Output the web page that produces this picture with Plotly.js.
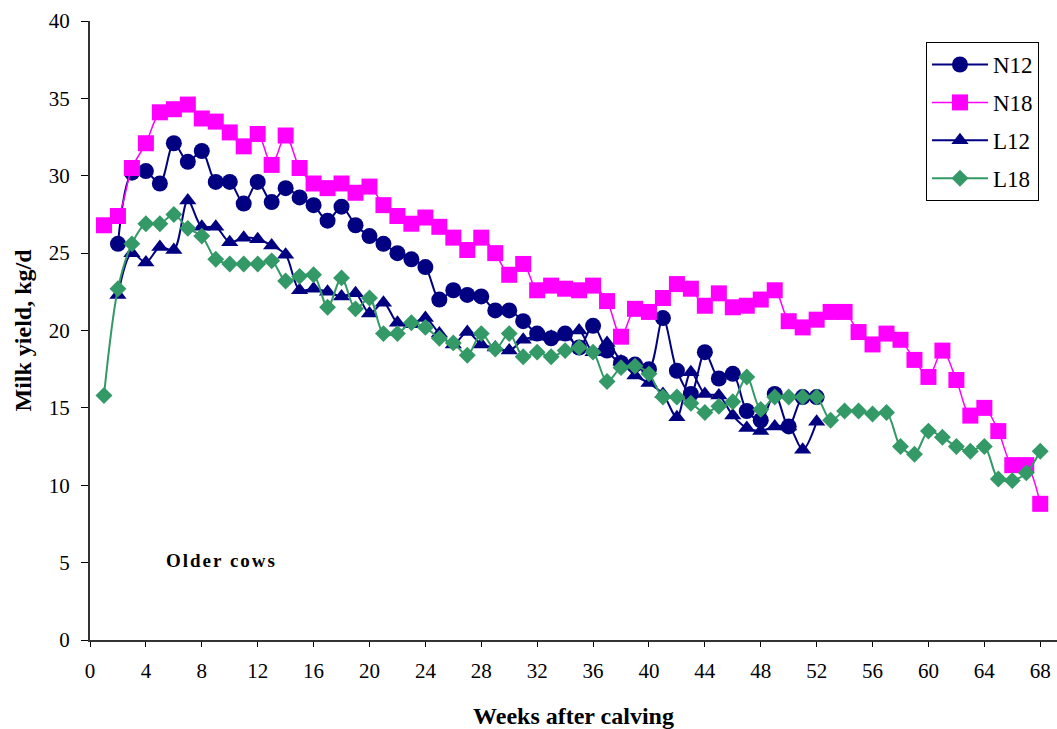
<!DOCTYPE html>
<html>
<head>
<meta charset="utf-8">
<script src="https://cdn.plot.ly/plotly-3.0.1.min.js"></script>
<style>
  html, body { margin: 0; padding: 0; background: #fff; }
  #chart { width: 1057px; height: 729px; }
</style>
</head>
<body>
<div id="chart"></div>
<script>
// Weeks after calving
const weeksLong = Array.from({length: 68}, (_, i) => i + 1);   // 1..68
const weeksShort = Array.from({length: 51}, (_, i) => i + 2);  // 2..52

// Milk yield, kg/d
const N12 = [25.6, 30.2, 30.3, 29.5, 32.1, 30.9, 31.6, 29.6, 29.6, 28.2,
             29.6, 28.3, 29.2, 28.6, 28.1, 27.1, 28.0, 26.8, 26.1, 25.6,
             25.0, 24.6, 24.1, 22.0, 22.6, 22.3, 22.2, 21.3, 21.3, 20.6,
             19.8, 19.5, 19.8, 18.9, 20.3, 18.7, 17.9, 17.8, 17.5, 20.8,
             17.4, 15.9, 18.6, 16.9, 17.2, 14.8, 14.2, 15.9, 13.8, 15.7,
             15.7];
const N18 = [26.8, 27.4, 30.5, 32.1, 34.1, 34.3, 34.6, 33.7, 33.5, 32.8,
             31.9, 32.7, 30.7, 32.6, 30.5, 29.5, 29.2, 29.5, 28.9, 29.3,
             28.1, 27.4, 26.9, 27.3, 26.7, 26.0, 25.2, 26.0, 25.0, 23.6,
             24.3, 22.6, 22.9, 22.7, 22.6, 22.9, 21.9, 19.6, 21.4, 21.2,
             22.1, 23.0, 22.7, 21.6, 22.4, 21.5, 21.6, 22.0, 22.6, 20.6,
             20.2, 20.7, 21.2, 21.2, 19.9, 19.1, 19.8, 19.4, 18.1, 17.0,
             18.7, 16.8, 14.5, 15.0, 13.5, 11.3, 11.3, 8.8];
const L12 = [22.3, 25.0, 24.4, 25.4, 25.2, 28.4, 26.7, 26.7, 25.7, 26.0,
             25.9, 25.5, 24.9, 22.6, 22.7, 22.5, 22.2, 22.4, 21.1, 21.8,
             20.5, 20.4, 20.8, 19.8, 19.1, 19.9, 19.1, 18.9, 18.7, 19.4,
             19.6, 19.6, 19.6, 20.0, 18.6, 19.2, 18.0, 17.1, 16.6, 15.9,
             14.4, 17.3, 15.9, 15.8, 14.5, 13.7, 13.5, 13.8, 13.8, 12.3,
             14.1];
const L18 = [15.8, 22.7, 25.6, 26.9, 26.9, 27.5, 26.6, 26.1, 24.6, 24.3,
             24.3, 24.3, 24.5, 23.2, 23.5, 23.6, 21.5, 23.4, 21.4, 22.1,
             19.8, 19.8, 20.5, 20.2, 19.5, 19.2, 18.4, 19.8, 18.8, 19.8,
             18.3, 18.6, 18.3, 18.7, 18.9, 18.6, 16.7, 17.6, 17.7, 17.2,
             15.7, 15.7, 15.3, 14.7, 15.1, 15.4, 17.0, 14.9, 15.7, 15.7,
             15.7, 15.7, 14.2, 14.8, 14.8, 14.6, 14.7, 12.5, 12.0, 13.5,
             13.1, 12.5, 12.2, 12.5, 10.4, 10.3, 10.8, 12.2];

const xTickVals = [0, 4, 8, 12, 16, 20, 24, 28, 32, 36, 40, 44, 48, 52, 56, 60, 64, 68];
const yTickVals = [0, 5, 10, 15, 20, 25, 30, 35, 40];

const serif = "'Liberation Serif', 'Times New Roman', serif";

const traces = [
  { name: 'N12', x: weeksShort, y: N12, color: '#000080', symbol: 'circle', size: 16, lw: 2 },
  { name: 'N18', x: weeksLong, y: N18, color: '#FF00FF', symbol: 'square', size: 16, lw: 1.5 },
  { name: 'L12', x: weeksShort, y: L12, color: '#000080', symbol: 'triangle-up', size: 15, lw: 2 },
  { name: 'L18', x: weeksLong, y: L18, color: '#339966', symbol: 'diamond', size: 13, lw: 2 }
].map(s => ({
  type: 'scatter',
  mode: 'lines+markers',
  name: s.name,
  legendgroup: s.name,
  x: s.x,
  y: s.y,
  line: { color: s.color, width: s.lw, shape: 'spline', smoothing: 0.9 },
  marker: { color: s.color, symbol: s.symbol, size: s.size, line: { width: 0 } },
  cliponaxis: false
}));

const layout = {
  width: 1057,
  height: 729,
  margin: { l: 90, r: 0, t: 21, b: 89 },
  paper_bgcolor: '#ffffff',
  plot_bgcolor: '#ffffff',
  font: { family: serif, size: 20, color: '#000' },
  showlegend: true,
  legend: {
    x: 0.8645, y: 0.966, xanchor: 'left', yanchor: 'top',
    bordercolor: '#000', borderwidth: 1, bgcolor: '#fff',
    font: { family: serif, size: 23, color: '#000' },
    tracegroupgap: 5,
    itemwidth: 56
  },
  xaxis: {
    range: [0, 69.2],
    tickvals: xTickVals,
    ticktext: xTickVals.map(String),
    ticks: 'outside', ticklen: 5, tickwidth: 1, tickcolor: '#000',
    showline: true, linecolor: '#333', linewidth: 2,
    showgrid: false, zeroline: false,
    tickfont: { family: serif, size: 21, color: '#000' },
    ticklabelstandoff: 6,
    title: { text: 'Weeks after calving', font: { family: serif, size: 24, color: '#000', weight: 'bold' }, standoff: 30 },
    automargin: false,
    fixedrange: true
  },
  yaxis: {
    range: [0, 40],
    tickvals: yTickVals,
    ticktext: yTickVals.map(String),
    ticks: 'outside', ticklen: 7, tickwidth: 1, tickcolor: '#000',
    showline: true, linecolor: '#333', linewidth: 2,
    showgrid: false, zeroline: false,
    tickfont: { family: serif, size: 21, color: '#000' },
    ticklabelstandoff: 7,
    title: { text: 'Milk yield, kg/d', font: { family: serif, size: 24, color: '#000', weight: 'bold' }, standoff: 10 },
    automargin: false,
    fixedrange: true
  },
  annotations: [
    {
      x: 9.4, y: 5.15, xref: 'x', yref: 'y',
      text: '<b>Older cows</b>',
      showarrow: false,
      font: { family: serif, size: 19, color: '#000' },
      xanchor: 'center', yanchor: 'middle'
    }
  ]
};

Plotly.newPlot('chart', traces, layout, { displayModeBar: false, staticPlot: true }).then(() => {
  document.querySelectorAll('.annotation-text').forEach(t => {
    t.style.letterSpacing = '2px';
  });
});
</script>
</body>
</html>
